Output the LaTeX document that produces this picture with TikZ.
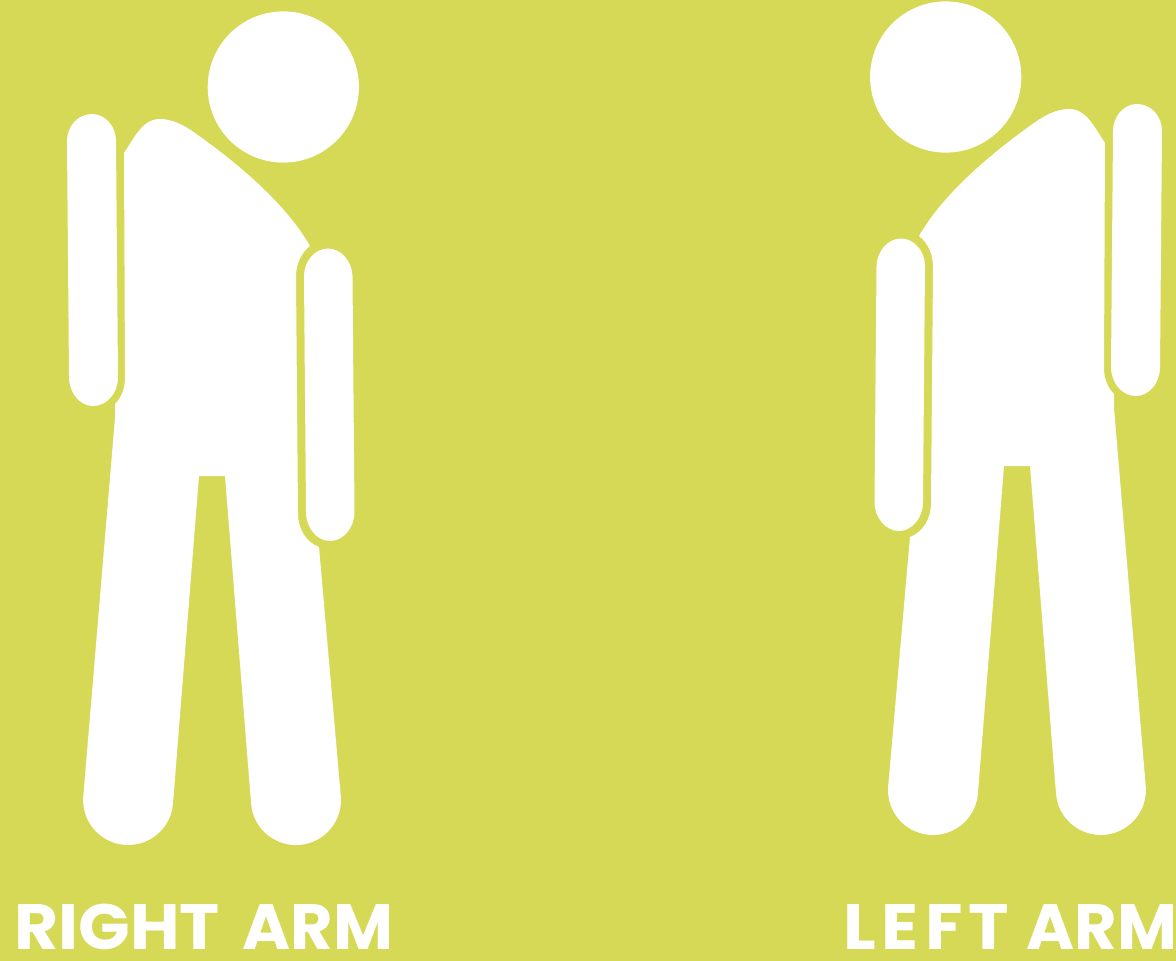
\documentclass[tikz,border=0pt]{standalone}
\usepackage{fontspec}
\usepackage{graphicx}
\setmainfont{Poppins}
\newfontfamily\spacedfont[LetterSpace=9]{Poppins}
\definecolor{bgyellow}{HTML}{D6D955}
\tikzset{
  figshape/.style={fill=white,draw=none},
  armlabel/.style={text=white,font=\fontsize{64}{64}\selectfont\bfseries,inner sep=0pt,anchor=base west}
}
\newcommand{\figurebody}{%
  \fill[figshape] (283.3,87) circle[radius=75.6];
  \fill[figshape] (124,153) .. controls (136,135) and (143,119) .. (160,119)
    .. controls (172,119) and (184,125) .. (195,133)
    .. controls (243,167) and (287,206) .. (310,246)
    .. controls (301,253) and (296,264) .. (296,277)
    -- (298,513) .. controls (298,529) and (306,542) .. (319,547)
    -- (340.8,796.1) arc[start angle=-5,end angle=175.5,radius=45]
    -- (225,476) -- (199,476) -- (173,803.5)
    arc[start angle=4.5,end angle=185,radius=45]
    -- (115,418) -- (115,404)
    .. controls (121,398) and (125,389) .. (125,378)
    -- (124,153) -- cycle;
  % outer arm
  \fill[figshape] (67,141) .. controls (67,126) and (78,114) .. (92,114)
    .. controls (105,114) and (116,126) .. (116,141)
    -- (118,377) .. controls (118,393) and (107,406) .. (93,406)
    .. controls (80,406) and (69,393) .. (69,377) -- cycle;
  % inner arm
  \fill[figshape] (304,276) .. controls (304,261) and (315,248.5) .. (328,248.5)
    .. controls (341,248.5) and (352,261) .. (352.5,276)
    -- (354.5,512) .. controls (354.5,528) and (343,541) .. (330,541)
    .. controls (317,541) and (306,528) .. (306,512) -- cycle;
}
\begin{document}
\begin{tikzpicture}[x=1pt,y=-1pt]
  \path[use as bounding box,fill=bgyellow] (0,0) rectangle (1176,961);
  \figurebody
  \begin{scope}[xscale=-1,xshift=-1229pt,yshift=10pt]
    \figurebody
  \end{scope}
  \node[armlabel] (rightlabel) at (14,949) {\scalebox{1.06}[1]{RIGHT}\hspace{23pt}\scalebox{1.02}[1]{ARM}};
  \node[armlabel] (leftlabel) at (843,949) {\scalebox{1.07}[1]{\spacedfont\bfseries LEFT}\hspace{17pt}\scalebox{1.02}[1]{ARM}};
\end{tikzpicture}
\end{document}
